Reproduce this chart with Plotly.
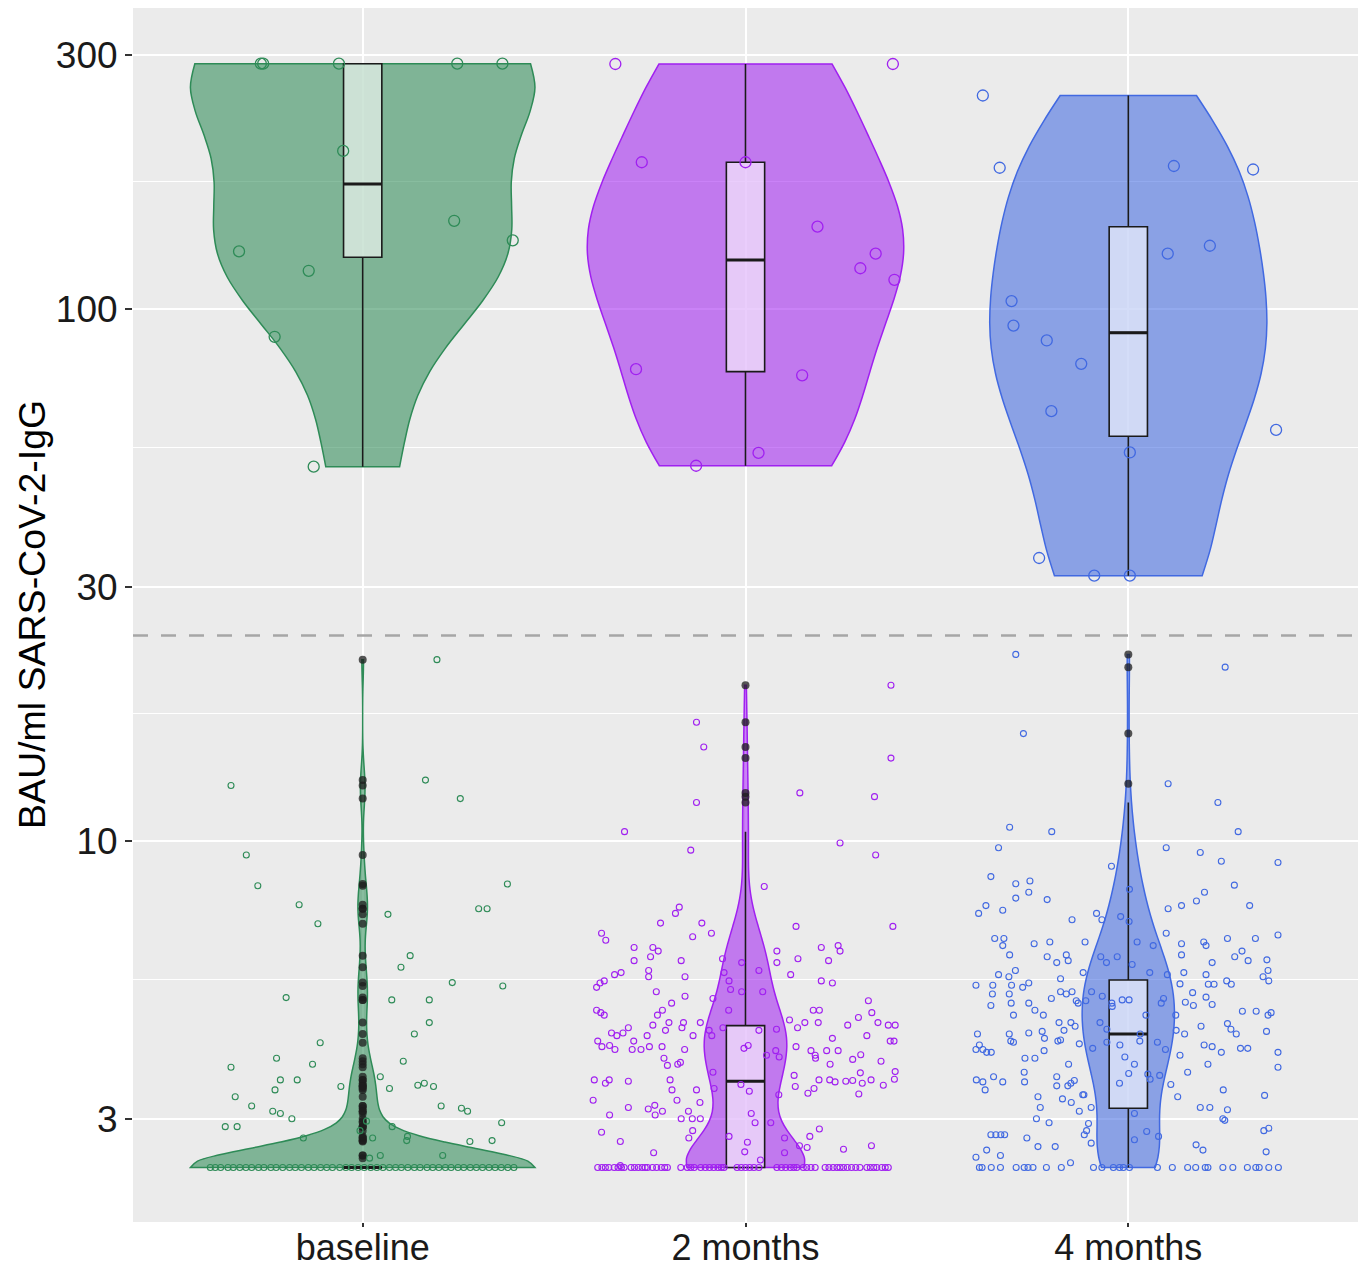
import numpy as np
import plotly.graph_objects as go

# ---------------- data ----------------
categories = ["baseline", "2 months", "4 months"]
threshold = 24.3          # dashed line, BAU/ml
floor_value = 2.43        # lowest reported value, BAU/ml

# high responders (above threshold)
high_baseline = [289, 289, 289, 289, 289, 198.1, 146.4, 128.2, 134.5, 117.9, 88.6, 50.5]
high_baseline_jit = [-0.266, -0.260, -0.062, 0.247, 0.365, -0.051, 0.239, -0.323, 0.392, -0.141, -0.230, -0.128]
high_2m = [288.6, 288.6, 188.6, 188.6, 142.7, 127.0, 119.2, 113.4, 77.0, 75.0, 53.6, 50.7]
high_2m_jit = [-0.340, 0.385, -0.271, 0.0, 0.188, 0.340, 0.300, 0.389, -0.286, 0.148, 0.034, -0.129]
high_4m = [251.8, 184.2, 185.6, 182.8, 131.4, 127.0, 103.4, 93.0, 87.2, 78.8, 64.2, 59.2, 53.7, 34.0, 31.5, 31.5]
high_4m_jit = [-0.380, -0.336, 0.119, 0.326, 0.213, 0.103, -0.305, -0.300, -0.213, -0.123, -0.201, 0.386, 0.004, -0.233, -0.089, 0.004]

# low responders (below threshold), values above the floor
low_baseline = [21.9, 12.7, 13.0, 12.0, 9.4, 8.23, 8.29, 7.58, 7.45, 7.45, 6.98, 7.27, 6.08, 5.78, 5.41, 5.33,
                5.07, 5.02, 5.02, 4.55, 4.33, 4.17, 3.9, 3.8, 3.85, 3.75, 3.55, 3.55, 3.6, 3.4, 3.45, 3.42,
                3.47, 3.5, 3.45, 3.3, 3.17, 3.1, 3.07, 3.0, 3.17, 3.14, 3.1, 2.9, 2.9, 2.95, 2.76, 2.73,
                2.72, 2.73, 2.76, 2.85, 2.97, 2.9, 2.56, 2.56, 2.53, 2.78]
low_baseline_jit = [0.194, -0.344, 0.164, 0.255, -0.304, -0.274, 0.378, -0.166, 0.303, 0.325, -0.117, 0.066,
                    0.124, 0.100, 0.234, 0.366, -0.200, 0.076, 0.174, 0.174, 0.135, -0.111, -0.225, -0.131,
                    0.106, -0.344, -0.215, -0.171, 0.046, -0.229, -0.057, 0.070, 0.144, 0.161, 0.185, -0.333,
                    -0.290, -0.235, -0.215, -0.185, 0.205, 0.258, 0.274, -0.359, -0.328, 0.363, -0.155, 0.338,
                    0.280, 0.115, 0.026, -0.007, 0.010, 0.077, 0.209, 0.046, 0.018, 0.117]
low_baseline_floor_n = 200
low_baseline_floor_jit = [-0.398, -0.385, -0.371, -0.352, -0.338, -0.321, -0.305, -0.290, -0.272, -0.258, -0.240,
                          -0.226, -0.209, -0.191, -0.176, -0.160, -0.142, -0.127, -0.110, -0.094, -0.079, -0.060,
                          -0.044, -0.029, -0.012, 0.004, 0.021, 0.037, 0.053, 0.070, 0.086, 0.101, 0.118, 0.135,
                          0.150, 0.168, 0.183, 0.199, 0.216, 0.231, 0.249, 0.264, 0.281, 0.297, 0.313, 0.330,
                          0.346, 0.362, 0.379, 0.395]

low_2m = [19.6, 16.7, 15.0, 14.3, 12.3, 12.1, 11.8, 10.4, 9.9, 9.6, 9.4, 8.2, 7.5, 7.3, 7.0, 6.9, 6.9, 7.0, 6.7,
          6.5, 6.6, 6.7, 6.3, 6.3, 6.2, 6.2, 6.3, 6.35, 6.2, 5.95, 6.05, 5.95, 6.0, 5.9, 5.9, 6.0, 5.95, 5.7,
          5.6, 5.65, 5.7, 5.6, 5.55, 5.55, 5.65, 5.3, 5.4, 5.45, 5.45, 5.4, 5.45, 5.25, 5.2, 5.2, 5.2, 5.1,
          5.05, 4.95, 5.0, 4.8, 4.75, 4.7, 4.8, 4.7, 4.8, 4.8, 4.8, 4.75, 4.6, 4.55, 4.55, 4.65, 4.55, 4.5,
          4.5, 4.5, 4.55, 4.55, 4.55, 4.5, 4.45, 4.45, 4.35, 4.3, 4.35, 4.4, 4.3, 4.3, 4.4, 4.45, 4.4, 4.42,
          4.45, 4.3, 4.2, 4.1, 4.12, 4.05, 4.2, 4.05, 4.05, 4.1, 4.1, 4.05, 4.3, 4.07, 4.12, 4.03, 4.1, 4.03,
          3.95, 3.9, 4.03, 4.25, 4.03, 3.88, 3.96, 3.85, 4.2, 4.2, 3.9, 3.8, 3.83, 3.78, 3.95, 3.92, 3.8,
          3.55, 3.5, 3.55, 3.53, 3.55, 3.67, 3.48, 3.62, 3.45, 3.55, 3.55, 3.52, 3.53, 3.54, 3.66, 3.5, 3.55,
          3.47, 3.68, 3.56, 3.25, 3.4, 3.25, 3.4, 3.42, 3.38, 3.33, 3.35, 3.42, 3.34, 3.05, 3.15, 3.13, 3.18,
          3.05, 3.1, 3.0, 3.1, 3.0, 3.22, 3.0, 3.07, 2.95, 2.95, 2.87, 2.83, 2.72, 2.85, 2.76, 2.78, 2.71,
          2.76, 2.78, 2.67, 2.65, 2.63, 2.67, 2.59, 2.6, 2.51, 2.59, 2.45]
low_2m_jit = [0.380, -0.128, -0.109, 0.380, 0.142, 0.337, -0.128, -0.316, 0.247, -0.143, 0.340, 0.049, -0.173,
              -0.183, -0.222, 0.132, 0.385, -0.114, -0.376, -0.365, -0.138, -0.089, -0.291, -0.242, -0.228,
              0.082, 0.198, 0.242, 0.247, -0.291, -0.248, -0.168, -0.060, -0.010, 0.082, 0.137, 0.217, -0.253,
              -0.342, -0.325, 0.035, 0.118, -0.253, -0.158, -0.056, -0.389, -0.380, -0.369, 0.198, 0.227,
              -0.043, -0.039, -0.010, 0.045, -0.233, -0.158, -0.085, -0.193, 0.321, -0.389, -0.378, -0.369,
              -0.217, -0.230, -0.044, 0.177, 0.193, 0.330, 0.115, 0.155, 0.190, 0.295, 0.346, 0.373, 0.391,
              0.267, -0.118, -0.200, -0.162, -0.242, -0.166, -0.306, -0.350, -0.336, -0.320, -0.209, -0.257,
              -0.137, -0.095, -0.059, 0.035, 0.081, 0.136, 0.317, -0.386, -0.375, -0.355, -0.341, -0.292,
              -0.296, -0.273, -0.251, -0.218, -0.159, -0.088, -0.004, 0.007, 0.079, 0.132, 0.171, 0.182, 0.183,
              0.212, 0.227, 0.242, 0.280, 0.301, 0.354, 0.378, 0.388, -0.213, -0.177, -0.170, -0.204, 0.055,
              0.088, 0.221, -0.395, -0.366, -0.356, -0.306, -0.197, -0.085, -0.012, 0.127, 0.130, 0.192, 0.220,
              0.234, 0.262, 0.280, 0.300, 0.305, 0.328, 0.360, 0.391, 0.389, -0.398, -0.192, -0.179, -0.128,
              -0.082, 0.010, 0.087, 0.163, 0.179, 0.296, -0.355, -0.306, -0.254, -0.237, -0.236, -0.217, -0.168,
              -0.149, -0.139, -0.119, -0.118, 0.015, 0.025, 0.066, 0.193, -0.376, -0.327, -0.138, -0.148,
              -0.043, 0.005, 0.102, 0.168, 0.141, 0.161, 0.256, 0.329, -0.240, -0.002, 0.039, 0.102, -0.327]
low_2m_floor_n = 87
low_2m_floor_jit = [-0.386, -0.375, -0.366, -0.357, -0.343, -0.333, -0.324, -0.317, -0.299, -0.290, -0.280,
                    -0.270, -0.262, -0.256, -0.243, -0.232, -0.220, -0.211, -0.204, -0.169, -0.152, -0.143,
                    -0.134, -0.117, -0.105, -0.094, -0.083, -0.072, -0.063, -0.056, -0.022, -0.011, 0.000,
                    0.011, 0.022, 0.035, 0.082, 0.094, 0.105, 0.117, 0.126, 0.134, 0.151, 0.160, 0.171, 0.182,
                    0.208, 0.218, 0.229, 0.239, 0.247, 0.256, 0.266, 0.277, 0.288, 0.299, 0.317, 0.326, 0.335,
                    0.343, 0.356, 0.365, 0.373]

low_4m = [22.4, 21.2, 15.9, 12.8, 11.8, 10.6, 10.4, 10.4, 9.7, 9.7, 9.5, 9.15, 9.1, 8.95, 8.56, 8.3, 8.4, 8.0,
          7.8, 7.75, 8.25, 8.0, 7.7, 8.1, 7.55, 7.3, 7.4, 7.45, 7.55, 7.55, 7.1, 7.3, 7.1, 7.2, 7.05, 6.65,
          6.7, 6.55, 6.55, 6.35, 6.4, 6.45, 6.45, 6.45, 6.35, 6.4, 6.45, 6.55, 6.55, 6.1, 6.05, 5.9, 6.1,
          5.95, 6.05, 5.9, 6.05, 5.85, 6.1, 6.35, 5.9, 6.05, 6.2, 5.95, 5.97, 5.6, 5.55, 5.7, 5.5, 5.65,
          5.65, 5.6, 5.65, 5.6, 5.55, 5.7, 5.35, 5.35, 5.35, 5.3, 5.4, 5.38, 5.37, 5.37, 5.45, 5.37, 5.45,
          5.15, 5.15, 4.95, 4.9, 4.95, 5.05, 5.2, 5.15, 5.2, 5.0, 4.95, 5.0, 5.2, 5.1, 4.95, 5.02, 5.02,
          4.95, 5.05, 4.97, 4.9, 5.18, 5.08, 4.92, 4.8, 4.7, 4.7, 4.55, 4.55, 4.48, 4.55, 4.7, 4.7, 4.78,
          4.78, 4.7, 4.75, 4.35, 4.4, 4.42, 4.88, 4.4, 4.33, 4.48, 4.53, 4.42, 4.33, 4.38, 4.33, 4.33, 4.2,
          4.38, 4.25, 4.2, 4.33, 4.2, 4.18, 4.13, 4.18, 4.13, 4.05, 4.05, 4.0, 4.0, 4.18, 4.22, 4.15, 4.07,
          4.05, 4.13, 4.1, 4.07, 4.07, 4.0, 3.9, 3.9, 4.03, 3.8, 3.92, 3.8, 3.64, 3.95, 3.67, 4.0, 3.8, 3.75,
          3.67, 3.6, 3.55, 3.52, 3.4, 3.52, 3.52, 3.6, 3.46, 3.5, 3.54, 3.46, 3.5, 3.65, 3.62, 3.56, 3.48,
          3.4, 3.32, 3.3, 3.27, 3.22, 3.33, 3.33, 3.3, 3.15, 3.1, 3.15, 3.07, 3.15, 3.15, 3.12, 3.0, 2.98,
          3.0, 2.95, 2.94, 2.85, 2.8, 2.7, 2.84, 2.78, 2.74, 2.8, 2.8, 2.8, 2.8, 2.76, 2.85, 2.88, 2.66, 2.66,
          2.68, 2.62, 2.6, 2.62, 2.54, 2.56, 2.48]
low_4m_jit = [-0.294, 0.253, -0.274, 0.104, 0.234, -0.310, -0.200, 0.287, -0.339, 0.099, 0.188, 0.243, 0.391,
              -0.044, -0.359, -0.294, -0.257, -0.260, -0.294, -0.212, 0.277, 0.199, 0.178, 0.003, -0.372,
              -0.391, -0.328, 0.104, 0.139, 0.317, -0.147, -0.083, -0.069, -0.020, 0.002, 0.391, 0.099,
              -0.349, -0.325, -0.328, -0.246, -0.205, -0.113, 0.023, 0.065, 0.139, 0.197, 0.259, 0.332,
              -0.310, -0.212, -0.187, -0.162, -0.157, -0.072, -0.057, -0.029, 0.010, 0.139, 0.203, 0.219,
              0.278, 0.297, 0.313, 0.362, -0.339, -0.312, -0.295, -0.177, -0.118, 0.056, 0.102, 0.145, 0.203,
              0.352, 0.365, -0.398, -0.354, -0.305, -0.276, -0.260, 0.135, 0.209, 0.224, 0.257, 0.269, 0.367,
              -0.355, -0.311, -0.306, -0.359, -0.260, -0.201, -0.177, -0.162, -0.147, -0.136, -0.131, -0.111,
              -0.096, -0.068, -0.043, -0.016, 0.002, 0.086, 0.092, 0.149, 0.170, 0.168, 0.203, 0.219, -0.244,
              -0.222, -0.300, -0.181, -0.150, -0.139, -0.074, 0.046, 0.124, 0.298, 0.334, 0.365, 0.373,
              -0.260, -0.168, -0.056, -0.042, 0.125, 0.147, 0.190, 0.259, 0.268, 0.282, 0.361, -0.394, -0.311,
              -0.307, -0.225, -0.219, -0.184, 0.031, 0.030, -0.056, -0.022, 0.076, -0.389, -0.380, -0.398,
              -0.370, -0.358, -0.300, -0.177, -0.128, -0.093, 0.097, 0.198, 0.219, 0.293, 0.312, 0.391,
              -0.270, -0.244, -0.220, -0.156, -0.009, 0.016, 0.051, 0.135, 0.155, 0.243, 0.208, 0.391, -0.272,
              -0.352, -0.397, -0.380, -0.374, -0.328, -0.271, -0.187, -0.187, -0.150, -0.141, -0.158, -0.023,
              0.001, 0.082, 0.057, 0.111, 0.248, 0.356, -0.236, -0.172, -0.149, -0.119, -0.116, 0.129, -0.230,
              -0.128, -0.097, 0.016, 0.188, 0.213, 0.259, 0.247, 0.252, -0.240, -0.207, -0.104, -0.109,
              -0.115, -0.097, 0.048, 0.079, 0.016, -0.359, -0.346, -0.333, -0.323, -0.265, 0.354, 0.367,
              -0.236, -0.191, 0.177, 0.195, 0.360, -0.370, -0.398, -0.334, -0.151]
low_4m_floor_n = 29
low_4m_floor_jit = [-0.389, -0.382, -0.358, -0.334, -0.293, -0.272, -0.262, -0.249, -0.214, -0.175, -0.091,
                    -0.069, -0.039, -0.023, -0.013, 0.003, 0.076, 0.115, 0.155, 0.176, 0.201, 0.208, 0.247,
                    0.273, 0.311, 0.333, 0.342, 0.367, 0.392]

# box statistics (baseline, 2 months, 4 months)
high_q1 = [125.0, 76.2, 57.6]
high_median = [171.6, 123.5, 90.2]
high_q3 = [289, 188.6, 142.7]
high_lower = [50.5, 50.7, 31.5]
high_upper = [289, 288.6, 251.8]
low_q1 = [2.43, 2.43, 3.14]
low_median = [2.43, 3.53, 4.33]
low_q3 = [2.43, 4.49, 5.47]
low_lower = [2.43, 2.43, 2.43]
low_upper = [2.43, 10.4, 11.8]

# ---------------- styles ----------------
line_colors = ["#2E8B57", "#A020F0", "#4169E1"]
fill_colors = ["rgba(46,139,87,0.57)", "rgba(160,32,240,0.56)", "rgba(65,105,225,0.57)"]
high_violin_width = [0.9, 0.826, 0.724]
low_violin_width = [0.9, 0.308, 0.241]
high_bw_adjust = [1.0, 1.0, 1.0]
low_bw_adjust = [0.85, 1.0, 1.15]
box_width = 0.1
positions = [1, 2, 3]
FONT = "Liberation Sans, Arial, sans-serif"
PANEL_L, PANEL_R, PANEL_T, PANEL_B = 133, 1358, 8, 1222


def nrd0(x):
    x = np.asarray(x, dtype=float)
    hi = np.std(x, ddof=1)
    q75, q25 = np.percentile(x, [75, 25])
    lo = min(hi, (q75 - q25) / 1.34)
    if not lo:
        lo = hi or abs(x[0]) or 1.0
    return 0.9 * lo * len(x) ** -0.2


L = np.log10
fig = go.Figure()

high_vals = [high_baseline, high_2m, high_4m]
high_jit = [high_baseline_jit, high_2m_jit, high_4m_jit]
low_vals = [low_baseline, low_2m, low_4m]
low_jit = [low_baseline_jit, low_2m_jit, low_4m_jit]
low_floor_n = [low_baseline_floor_n, low_2m_floor_n, low_4m_floor_n]
low_floor_jit = [low_baseline_floor_jit, low_2m_floor_jit, low_4m_floor_jit]

# violins
for i, p in enumerate(positions):
    for vals, w, adj in ((high_vals[i], high_violin_width[i], high_bw_adjust[i]),
                         (list(low_vals[i]) + [floor_value] * low_floor_n[i], low_violin_width[i],
                          low_bw_adjust[i])):
        ly = L(vals)
        fig.add_trace(go.Violin(
            x0=p, y=ly, width=w, scalemode="width", spanmode="hard",
            bandwidth=nrd0(ly) * adj, points=False, box_visible=False, meanline_visible=False,
            line=dict(color=line_colors[i], width=1.5), fillcolor=fill_colors[i],
            hoverinfo="skip", showlegend=False))

# boxes
for i, p in enumerate(positions):
    for q1, md, q3, lo, up in ((high_q1, high_median, high_q3, high_lower, high_upper),
                               (low_q1, low_median, low_q3, low_lower, low_upper)):
        fig.add_trace(go.Box(
            x=[p], q1=[L(q1[i])], median=[L(md[i])], q3=[L(q3[i])],
            lowerfence=[L(lo[i])], upperfence=[L(up[i])],
            width=box_width, whiskerwidth=0, boxpoints=False,
            fillcolor="rgba(255,255,255,0.6)", line=dict(color="#1a1a1a", width=1.6),
            hoverinfo="skip", showlegend=False))
        fig.add_trace(go.Scatter(
            x=[p - box_width / 2, p + box_width / 2], y=[L(md[i])] * 2, mode="lines",
            line=dict(color="#1a1a1a", width=3), hoverinfo="skip", showlegend=False))

# outliers (low group), drawn at the centre
for i, p in enumerate(positions):
    out = [v for v in low_vals[i] if v > low_upper[i] or v < low_lower[i]]
    fig.add_trace(go.Scatter(
        x=[p] * len(out), y=L(out), mode="markers",
        marker=dict(color="rgba(30,30,30,0.75)", size=8, line=dict(width=0)),
        hoverinfo="skip", showlegend=False))

# jittered points
for i, p in enumerate(positions):
    fig.add_trace(go.Scatter(
        x=[p + j for j in high_jit[i]], y=L(high_vals[i]), mode="markers",
        marker=dict(symbol="circle-open", size=11, color=line_colors[i], line=dict(width=1.3)),
        hoverinfo="skip", showlegend=False))
    fig.add_trace(go.Scatter(
        x=[p + j for j in low_jit[i]] + [p + j for j in low_floor_jit[i]],
        y=list(L(low_vals[i])) + [L(floor_value)] * len(low_floor_jit[i]), mode="markers",
        marker=dict(symbol="circle-open", size=6, color=line_colors[i], line=dict(width=1.1)),
        hoverinfo="skip", showlegend=False))

# threshold line
fig.add_shape(type="line", xref="paper", x0=0, x1=1, yref="y", y0=L(threshold), y1=L(threshold),
              line=dict(color="#a6a6a6", width=2.5, dash="15px,13px"), layer="above")

ytick_vals = [3, 10, 30, 100, 300]
ytick_minor = [np.sqrt(ytick_vals[k] * ytick_vals[k + 1]) for k in range(len(ytick_vals) - 1)]

W, H = 1364, 1270
fig.update_layout(
    width=W, height=H,
    margin=dict(l=PANEL_L, r=W - PANEL_R, t=PANEL_T, b=H - PANEL_B, autoexpand=False),
    paper_bgcolor="white", plot_bgcolor="#EBEBEB",
    font=dict(family=FONT, color="#1a1a1a"),
    violinmode="overlay", boxmode="overlay",
    xaxis=dict(range=[0.4, 3.6], tickmode="array", tickvals=positions, ticktext=categories,
               automargin=False, ticklabelstandoff=-10,
               showgrid=True, gridcolor="white", gridwidth=2.2, zeroline=False,
               ticks="outside", ticklen=4, tickwidth=1.5, tickcolor="#333333",
               tickfont=dict(size=36, color="#1a1a1a", family=FONT), showline=False),
    yaxis=dict(range=[0.2831, 2.5656], tickmode="array", tickvals=list(L(ytick_vals)),
               ticktext=[str(v) for v in ytick_vals], automargin=False,
               showgrid=True, gridcolor="white", gridwidth=2.2, zeroline=False,
               minor=dict(tickmode="array", tickvals=list(L(ytick_minor)), showgrid=True,
                          gridcolor="white", gridwidth=1.2, ticks=""),
               ticks="outside", ticklen=7, tickwidth=1.5, tickcolor="#333333",
               tickfont=dict(size=37, color="#1a1a1a", family=FONT), showline=False),
    annotations=[dict(text="BAU/ml SARS-CoV-2-IgG", xref="paper", yref="paper",
                      x=(32 - PANEL_L) / (PANEL_R - PANEL_L), y=0.5, xanchor="center", yanchor="middle",
                      textangle=-90, showarrow=False,
                      font=dict(size=37.5, color="black", family=FONT))],
)

fig.write_html("out.html", config={"displayModeBar": False},
               post_script="document.body.style.margin='0';document.body.style.overflow='hidden';")
